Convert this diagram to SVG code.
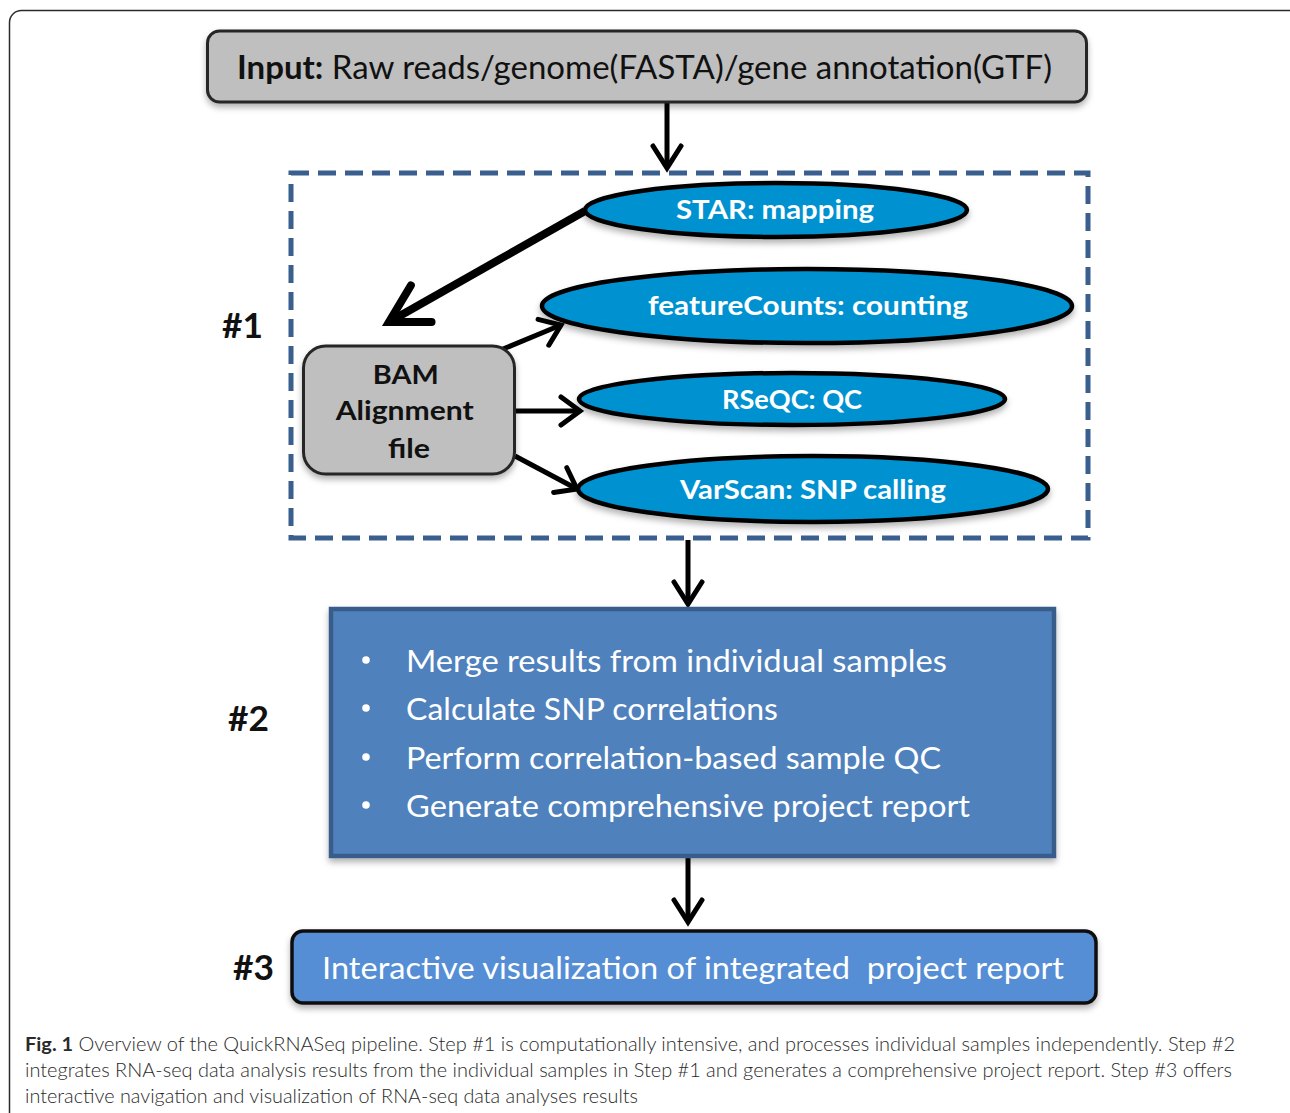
<svg xmlns="http://www.w3.org/2000/svg" width="1290" height="1113" viewBox="0 0 1290 1113">
<defs>
<style>
.frame{fill:none;stroke:#2b2b2b;stroke-width:1.5}
.gray{fill:#bfbfbf;stroke:#262626;stroke-width:3}
.ell{fill:#0092d0;stroke:#000;stroke-width:4.5}
.dash{fill:none;stroke:#3a5f8e;stroke-width:5;stroke-dasharray:18 9}
.t{font-family:Lato,"Open Sans","Liberation Sans",sans-serif}
.et{font-family:Lato,"Open Sans","Liberation Sans",sans-serif;font-weight:bold;font-size:27px;fill:#fff;text-anchor:middle}
.wt{font-family:Lato,"Open Sans","Liberation Sans",sans-serif;font-size:31px;fill:#fff}
.lbl{font-family:Lato,"Open Sans","Liberation Sans",sans-serif;font-weight:bold;font-size:34px;fill:#111}
.cap{font-family:Lato,"Open Sans","Liberation Sans",sans-serif;font-size:19px;font-weight:300;fill:#2a2a2a}
.ln{fill:none;stroke:#000;stroke-linecap:butt}
</style>
<marker id="ah" markerUnits="userSpaceOnUse" viewBox="-30 -20 34 40" markerWidth="34" markerHeight="40" refX="0" refY="0" orient="auto" overflow="visible">
<path d="M-22,-14 L0,0 L-22,14" fill="none" stroke="#000" stroke-width="5" stroke-linecap="round" stroke-linejoin="miter"/>
</marker>
<marker id="ahs" markerUnits="userSpaceOnUse" viewBox="-30 -20 34 40" markerWidth="34" markerHeight="40" refX="0" refY="0" orient="auto" overflow="visible">
<path d="M-19,-14 L0,0 L-19,14" fill="none" stroke="#000" stroke-width="5" stroke-linecap="round"/>
</marker>
<marker id="ahb" markerUnits="userSpaceOnUse" viewBox="-45 -30 50 60" markerWidth="50" markerHeight="60" refX="0" refY="0" orient="auto" overflow="visible">
<path d="M-37,-21 L0,0 L-37,21" fill="none" stroke="#000" stroke-width="8" stroke-linecap="round"/>
</marker>
<filter id="sh" x="-10%" y="-20%" width="120%" height="150%">
<feDropShadow dx="0" dy="4" stdDeviation="3" flood-color="#000" flood-opacity="0.3"/>
</filter>
</defs>

<rect class="frame" x="9.5" y="10.5" width="1300" height="1130" rx="12"/>

<g id="connectors">
<line class="ln" x1="667" y1="102" x2="667" y2="168" stroke-width="5" marker-end="url(#ah)"/>
<line class="ln" x1="585" y1="211" x2="389" y2="322" stroke-width="8" marker-end="url(#ahb)"/>
<line class="ln" x1="503" y1="349" x2="561" y2="325" stroke-width="5" marker-end="url(#ahs)"/>
<line class="ln" x1="505" y1="411" x2="580" y2="411" stroke-width="5" marker-end="url(#ahs)"/>
<line class="ln" x1="515" y1="456" x2="577" y2="489" stroke-width="5" marker-end="url(#ahs)"/>
<line class="ln" x1="688" y1="540" x2="688" y2="604" stroke-width="5" marker-end="url(#ah)"/>
<line class="ln" x1="688" y1="855" x2="688" y2="922" stroke-width="5" marker-end="url(#ah)"/>
</g>

<g id="input">
<rect class="gray" x="207.5" y="31" width="879" height="71" rx="12" filter="url(#sh)"/>
<text class="t" x="237" y="79" font-size="32" fill="#111" textLength="815" lengthAdjust="spacingAndGlyphs"><tspan font-weight="bold">Input:</tspan> Raw reads/genome(FASTA)/gene annotation(GTF)</text>
</g>

<g id="step1">
<rect class="dash" x="291" y="173" width="797" height="365"/>
<text class="lbl" x="222" y="338" textLength="41" lengthAdjust="spacingAndGlyphs">#1</text>
</g>

<g id="star">
<ellipse class="ell" cx="776" cy="210" rx="191" ry="27" filter="url(#sh)"/>
<text class="et" x="775" y="219" textLength="198" lengthAdjust="spacingAndGlyphs">STAR: mapping</text>
</g>

<g id="featurecounts">
<ellipse class="ell" cx="807" cy="306" rx="265" ry="37" filter="url(#sh)"/>
<text class="et" x="808" y="315" textLength="320" lengthAdjust="spacingAndGlyphs">featureCounts: counting</text>
</g>

<g id="rseqc">
<ellipse class="ell" cx="792" cy="399" rx="213" ry="26" filter="url(#sh)"/>
<text class="et" x="792" y="409" textLength="140" lengthAdjust="spacingAndGlyphs">RSeQC: QC</text>
</g>

<g id="varscan">
<ellipse class="ell" cx="813" cy="489" rx="235" ry="33" filter="url(#sh)"/>
<text class="et" x="813" y="499" textLength="266" lengthAdjust="spacingAndGlyphs">VarScan: SNP calling</text>
</g>

<g id="bam">
<rect class="gray" x="303.5" y="346" width="211" height="128" rx="22" filter="url(#sh)"/>
<text class="t" font-weight="bold" font-size="27" fill="#111" text-anchor="middle">
<tspan x="409" y="384" textLength="66" lengthAdjust="spacingAndGlyphs">BAM</tspan>
<tspan x="408" y="420" textLength="138" lengthAdjust="spacingAndGlyphs">Alignment</tspan>
<tspan x="409" y="458" textLength="42" lengthAdjust="spacingAndGlyphs">file</tspan>
</text>
</g>

<g id="step2">
<rect x="331" y="609" width="723" height="247" fill="#4f81bd" stroke="#385d8a" stroke-width="4.5" filter="url(#sh)"/>
<text class="lbl" x="228" y="731" textLength="41" lengthAdjust="spacingAndGlyphs">#2</text>
<g fill="#fff">
<circle cx="366" cy="660" r="3.8"/>
<circle cx="366" cy="708" r="3.8"/>
<circle cx="366" cy="757" r="3.8"/>
<circle cx="366" cy="805" r="3.8"/>
</g>
<text class="wt" x="406" y="672" textLength="541" lengthAdjust="spacingAndGlyphs">Merge results from individual samples</text>
<text class="wt" x="406" y="720" textLength="372" lengthAdjust="spacingAndGlyphs">Calculate SNP correlations</text>
<text class="wt" x="406" y="769" textLength="535" lengthAdjust="spacingAndGlyphs">Perform correlation-based sample QC</text>
<text class="wt" x="406" y="817" textLength="564" lengthAdjust="spacingAndGlyphs">Generate comprehensive project report</text>
</g>

<g id="step3">
<rect x="292" y="931" width="804" height="72" rx="11" fill="#558ed5" stroke="#111" stroke-width="3.5" filter="url(#sh)"/>
<text class="lbl" x="233" y="980" textLength="41" lengthAdjust="spacingAndGlyphs">#3</text>
<text class="wt" x="322" y="979" textLength="742" lengthAdjust="spacingAndGlyphs" xml:space="preserve">Interactive visualization of integrated  project report</text>
</g>

<g id="caption">
<text class="cap" x="25" y="1051" textLength="1210" lengthAdjust="spacingAndGlyphs"><tspan font-weight="bold">Fig. 1</tspan> Overview of the QuickRNASeq pipeline. Step #1 is computationally intensive, and processes individual samples independently. Step #2</text>
<text class="cap" x="25" y="1077" textLength="1207" lengthAdjust="spacingAndGlyphs">integrates RNA-seq data analysis results from the individual samples in Step #1 and generates a comprehensive project report. Step #3 offers</text>
<text class="cap" x="25" y="1103" textLength="613" lengthAdjust="spacingAndGlyphs">interactive navigation and visualization of RNA-seq data analyses results</text>
</g>
</svg>
